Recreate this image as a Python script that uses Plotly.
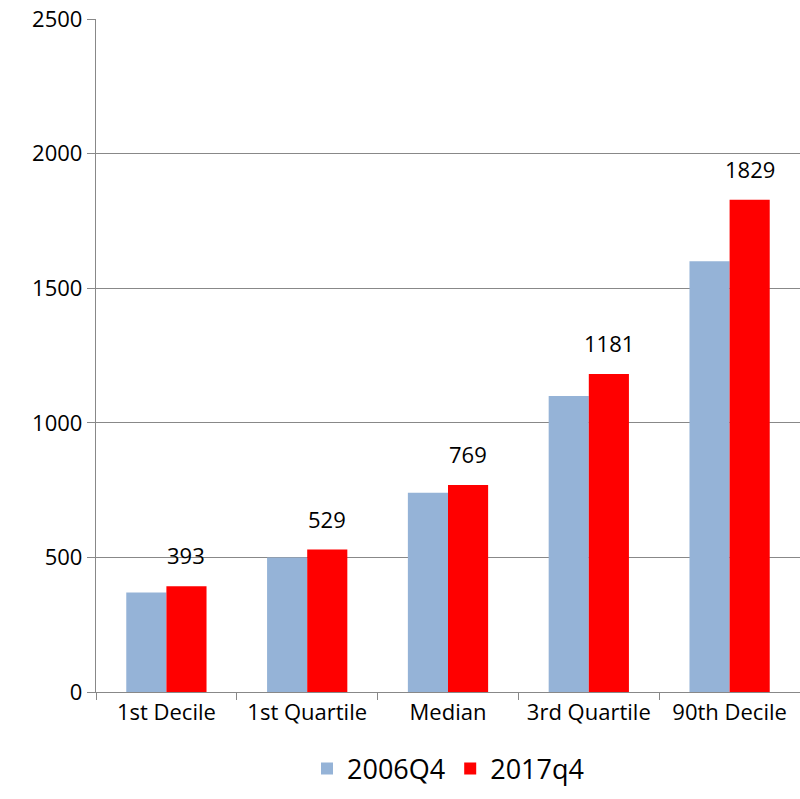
import plotly.graph_objects as go

categories = ["1st Decile", "1st Quartile", "Median", "3rd Quartile", "90th Decile"]
values_2006 = [370, 500, 740, 1100, 1600]
values_2017 = [393, 529, 769, 1181, 1829]

FONT = "Open Sans, Liberation Sans, sans-serif"

fig = go.Figure()
fig.add_trace(go.Bar(
    x=categories, y=values_2006, name="2006Q4",
    marker=dict(color="#95B3D7", line=dict(width=0)),
))
fig.add_trace(go.Bar(
    x=categories, y=values_2017, name="2017q4",
    marker=dict(color="#FF0000", line=dict(width=0)),
))

# data labels for the 2017q4 series
for c, v in zip(categories, values_2017):
    fig.add_annotation(x=c, y=v, text=str(v), showarrow=False,
                       xshift=20, yshift=14, yanchor="bottom",
                       font=dict(size=22, family=FONT, color="#000000"))

fig.update_layout(
    width=800, height=799,
    margin=dict(l=96, r=0, t=19, b=107),
    paper_bgcolor="white", plot_bgcolor="white",
    barmode="group", bargap=0.43, bargroupgap=0,
    font=dict(family=FONT, size=22, color="#000000"),
    showlegend=True,
    legend=dict(orientation="h", x=0.5, xanchor="center", y=-0.078, yanchor="top",
                font=dict(size=27, family=FONT), traceorder="normal"),
    xaxis=dict(
        showline=True, linecolor="#888888", linewidth=1.3,
        ticks="outside", tickson="boundaries", ticklen=7, tickcolor="#888888",
        tickfont=dict(size=22), showgrid=False, automargin=False,
    ),
    yaxis=dict(
        range=[0, 2500], dtick=500, tick0=0,
        showline=True, linecolor="#888888", linewidth=1.3,
        ticks="outside", ticklen=8, tickcolor="#888888",
        showgrid=True, gridcolor="#888888", gridwidth=1.3,
        zeroline=False, tickfont=dict(size=22), automargin=False,
        ticklabeloverflow="allow",
    ),
)

fig.write_html(
    "out.html",
    config={"displayModeBar": False},
    post_script="document.body.style.margin='0';",
)
